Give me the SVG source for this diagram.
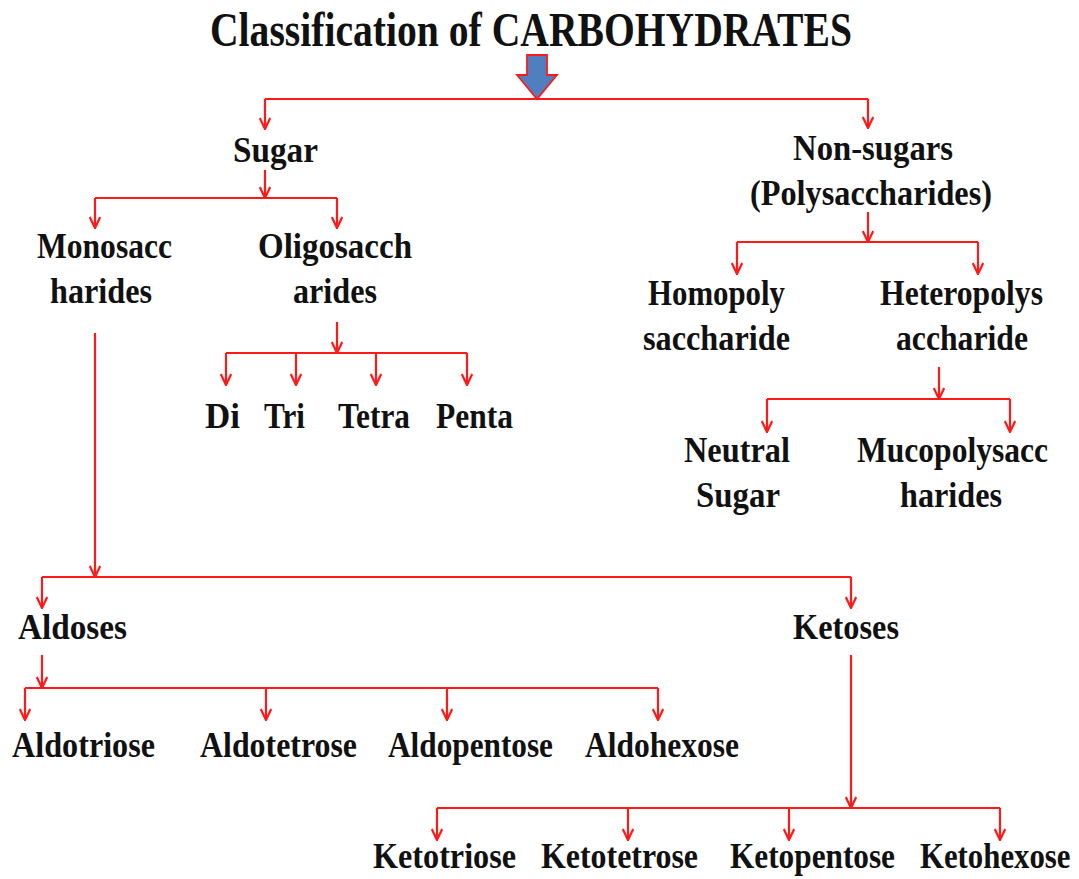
<svg xmlns="http://www.w3.org/2000/svg" width="1079" height="879" viewBox="0 0 1079 879">
<style>
.t{font-family:'Liberation Serif','DejaVu Serif',serif;font-weight:700;fill:#111;font-size:35px}
.title{font-size:48px}
.c path{fill:none;stroke:#ff1a1a;stroke-width:2.2}
</style>
<defs>
<marker id="ah" viewBox="0 0 12 12" refX="11.5" refY="6" markerWidth="13" markerHeight="12" markerUnits="userSpaceOnUse" orient="auto">
<path d="M0.5,0.8 L11.5,6 L0.5,11.2" fill="none" stroke="#ff1a1a" stroke-width="2.2"/>
</marker>
</defs>
<rect width="1079" height="879" fill="#fff"/>
<g id="title" class="t"><text class="title" x="210" y="46" textLength="642" lengthAdjust="spacingAndGlyphs">Classification of CARBOHYDRATES</text></g>
<g id="bigarrow"><polygon points="527,55 547,55 547,75 557,75 537,99 517,75 527,75" fill="#4f7fbf" stroke="#ff1a1a" stroke-width="1.8"/></g>
<g class="t">
<g id="n-sugar"><text x="233" y="162" textLength="85" lengthAdjust="spacingAndGlyphs">Sugar</text></g>
<g id="n-nonsugar"><text x="793" y="160" textLength="160" lengthAdjust="spacingAndGlyphs">Non-sugars</text><text x="750" y="205" textLength="242" lengthAdjust="spacingAndGlyphs">(Polysaccharides)</text></g>
<g id="n-mono"><text x="37" y="258" textLength="135" lengthAdjust="spacingAndGlyphs">Monosacc</text><text x="50" y="303" textLength="102" lengthAdjust="spacingAndGlyphs">harides</text></g>
<g id="n-oligo"><text x="258" y="258" textLength="154" lengthAdjust="spacingAndGlyphs">Oligosacch</text><text x="293" y="303" textLength="84" lengthAdjust="spacingAndGlyphs">arides</text></g>
<g id="n-di"><text x="205" y="428" textLength="35" lengthAdjust="spacingAndGlyphs">Di</text></g>
<g id="n-tri"><text x="264" y="428" textLength="41" lengthAdjust="spacingAndGlyphs">Tri</text></g>
<g id="n-tetra"><text x="338" y="428" textLength="72" lengthAdjust="spacingAndGlyphs">Tetra</text></g>
<g id="n-penta"><text x="436" y="428" textLength="77" lengthAdjust="spacingAndGlyphs">Penta</text></g>
<g id="n-homo"><text x="648" y="305" textLength="137" lengthAdjust="spacingAndGlyphs">Homopoly</text><text x="643" y="350" textLength="147" lengthAdjust="spacingAndGlyphs">saccharide</text></g>
<g id="n-hetero"><text x="880" y="305" textLength="163" lengthAdjust="spacingAndGlyphs">Heteropolys</text><text x="896" y="350" textLength="132" lengthAdjust="spacingAndGlyphs">accharide</text></g>
<g id="n-neutral"><text x="684" y="462" textLength="106" lengthAdjust="spacingAndGlyphs">Neutral</text><text x="696" y="507" textLength="84" lengthAdjust="spacingAndGlyphs">Sugar</text></g>
<g id="n-muco"><text x="857" y="462" textLength="191" lengthAdjust="spacingAndGlyphs">Mucopolysacc</text><text x="900" y="507" textLength="102" lengthAdjust="spacingAndGlyphs">harides</text></g>
<g id="n-aldoses"><text x="18" y="639" textLength="109" lengthAdjust="spacingAndGlyphs">Aldoses</text></g>
<g id="n-ketoses"><text x="793" y="639" textLength="106" lengthAdjust="spacingAndGlyphs">Ketoses</text></g>
<g id="n-aldotriose"><text x="12" y="757" textLength="143" lengthAdjust="spacingAndGlyphs">Aldotriose</text></g>
<g id="n-aldotetrose"><text x="200" y="757" textLength="157" lengthAdjust="spacingAndGlyphs">Aldotetrose</text></g>
<g id="n-aldopentose"><text x="388" y="757" textLength="165" lengthAdjust="spacingAndGlyphs">Aldopentose</text></g>
<g id="n-aldohexose"><text x="585" y="757" textLength="154" lengthAdjust="spacingAndGlyphs">Aldohexose</text></g>
<g id="n-ketotriose"><text x="373" y="868" textLength="143" lengthAdjust="spacingAndGlyphs">Ketotriose</text></g>
<g id="n-ketotetrose"><text x="541" y="868" textLength="157" lengthAdjust="spacingAndGlyphs">Ketotetrose</text></g>
<g id="n-ketopentose"><text x="730" y="868" textLength="165" lengthAdjust="spacingAndGlyphs">Ketopentose</text></g>
<g id="n-ketohexose"><text transform="translate(920,868) scale(0.88,1)" x="0" y="0">Ketohexose</text></g>
</g>
<g id="connectors" class="c">
<path d="M265,99 H868"/>
<path d="M265,99 V129" marker-end="url(#ah)"/>
<path d="M868,99 V128" marker-end="url(#ah)"/>
<path d="M265,170 V198" marker-end="url(#ah)"/>
<path d="M95,198 H337"/>
<path d="M95,198 V228" marker-end="url(#ah)"/>
<path d="M337,198 V228" marker-end="url(#ah)"/>
<path d="M337,322 V353" marker-end="url(#ah)"/>
<path d="M226,353 H467"/>
<path d="M226,353 V385" marker-end="url(#ah)"/>
<path d="M296,353 V385" marker-end="url(#ah)"/>
<path d="M376,353 V385" marker-end="url(#ah)"/>
<path d="M467,353 V385" marker-end="url(#ah)"/>
<path d="M868,212 V242" marker-end="url(#ah)"/>
<path d="M737,242 H978"/>
<path d="M737,242 V274" marker-end="url(#ah)"/>
<path d="M978,242 V274" marker-end="url(#ah)"/>
<path d="M939,367 V399" marker-end="url(#ah)"/>
<path d="M767,399 H1010"/>
<path d="M767,399 V432" marker-end="url(#ah)"/>
<path d="M1010,399 V432" marker-end="url(#ah)"/>
<path d="M95,333 V577" marker-end="url(#ah)"/>
<path d="M42,577 H851"/>
<path d="M42,577 V608" marker-end="url(#ah)"/>
<path d="M851,577 V608" marker-end="url(#ah)"/>
<path d="M42,655 V688" marker-end="url(#ah)"/>
<path d="M25,688 H658"/>
<path d="M25,688 V720" marker-end="url(#ah)"/>
<path d="M266,688 V720" marker-end="url(#ah)"/>
<path d="M447,688 V720" marker-end="url(#ah)"/>
<path d="M658,688 V720" marker-end="url(#ah)"/>
<path d="M851,655 V808" marker-end="url(#ah)"/>
<path d="M437,808 H1000"/>
<path d="M437,808 V840" marker-end="url(#ah)"/>
<path d="M628,808 V840" marker-end="url(#ah)"/>
<path d="M789,808 V840" marker-end="url(#ah)"/>
<path d="M1000,808 V840" marker-end="url(#ah)"/>
</g>
</svg>
